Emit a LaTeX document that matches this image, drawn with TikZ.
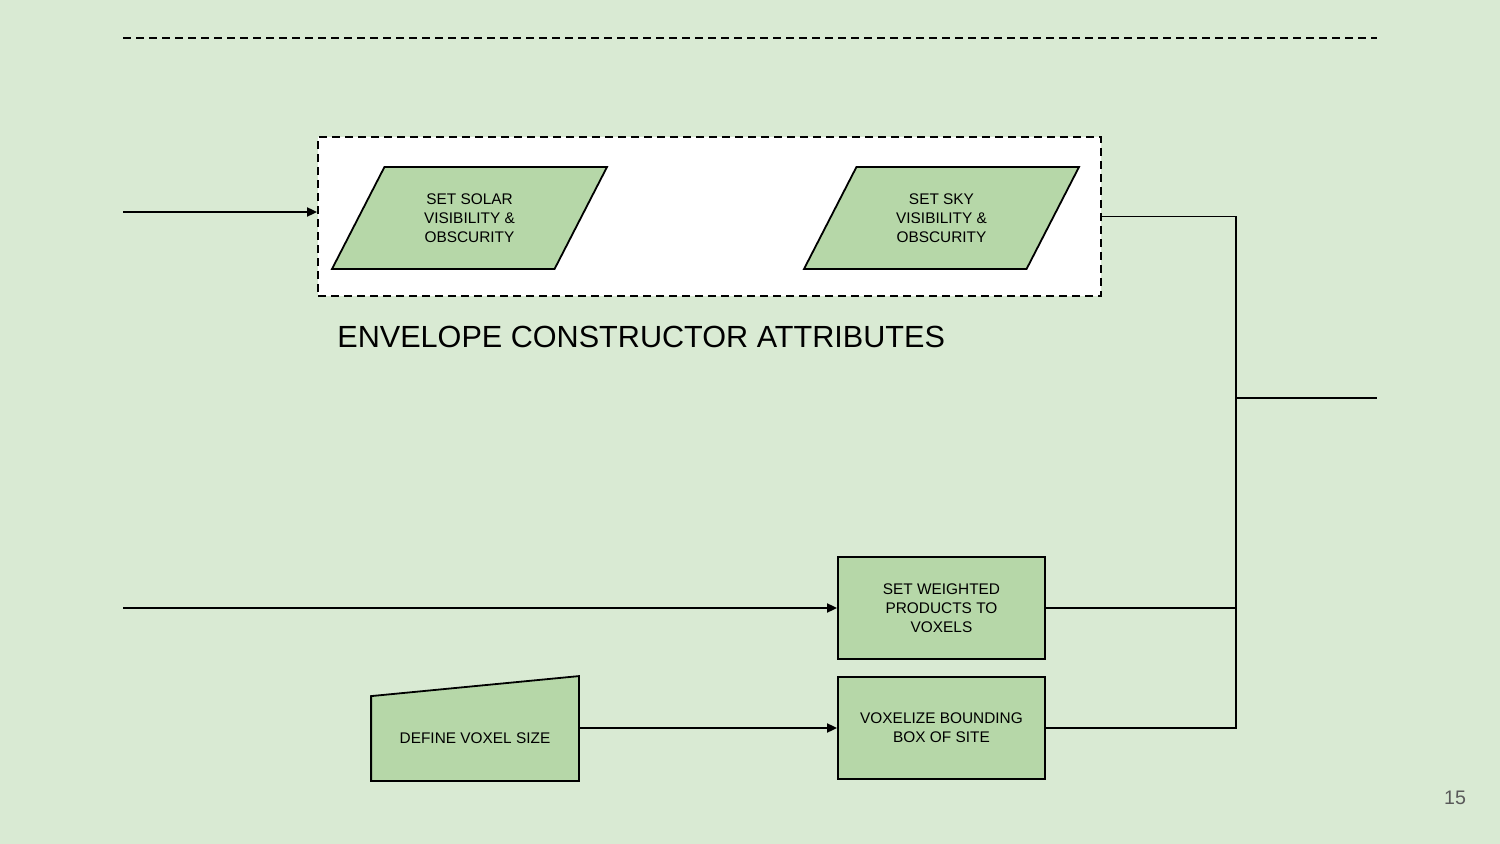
\documentclass[tikz,border=0pt]{standalone}
\usepackage{fontspec}
\setmainfont{Liberation Sans}
\usetikzlibrary{arrows.meta}
\usetikzlibrary{positioning}
\usetikzlibrary{shapes.geometric}
\definecolor{bgcol}{HTML}{D9EAD3}
\definecolor{boxcol}{HTML}{B6D7A8}
\definecolor{numcol}{HTML}{595959}
\pgfdeclarelayer{back}
\pgfsetlayers{back,main}
\tikzset{proc/.style = {draw, fill = boxcol, line width = 0.9pt, minimum width = 103.5pt, minimum height = 51pt, inner sep = 0, align = center, font = \fontsize{7.7}{9.5}\selectfont}}
\tikzset{para/.style = {proc, trapezium, trapezium left angle = 43, trapezium right angle = 137, trapezium stretches body, minimum width = 137.5pt}}
\tikzset{dashline/.style = {line width = 0.9pt, dash pattern = on 4pt off 2.5pt}}
\tikzset{link/.style = {line width = 0.9pt}}
\tikzset{flow/.style = {link, -{Triangle[length = 5pt, width = 4.5pt]}}}

\begin{document}
\begin{tikzpicture}[x = 0.5pt, y = -0.5pt]
    \useasboundingbox (0, 0) rectangle (1500, 844);
    \draw [dashline] (123, 38) -- (1377, 38);
    \node [dashline, draw, fill = white, minimum width = 391.5pt, minimum height = 79.5pt] (env) at (709.5, 216.5) {};
    \node [para] (solar) at (469.5, 218) {SET SOLAR\\VISIBILITY \&\\OBSCURITY};
    \node [para] (sky) at (941.5, 218) {SET SKY\\VISIBILITY \&\\OBSCURITY};
    \node [anchor = base west, inner sep = 0, font = \fontsize{15.3}{18}\selectfont] (title) at (337, 348) {ENVELOPE CONSTRUCTOR ATTRIBUTES};
    \node [proc] (weight) at (941.5, 608) {SET WEIGHTED\\PRODUCTS TO\\VOXELS};
    \node [proc] (voxelize) at (941.5, 728) {VOXELIZE BOUNDING\\BOX OF SITE};
    \node [proc, draw = none, fill = none, minimum width = 103pt, minimum height = 41.5pt] (vsize) at (475, 738.5) {DEFINE VOXEL SIZE};
    \begin{pgfonlayer}{back}
      \fill [bgcol] (0, 0) rectangle (1500, 844);
      \draw [link, fill = boxcol] (vsize.south west) -- (vsize.north west) -- ([yshift = 10pt] vsize.north east) -- (vsize.south east) -- cycle;
    \end{pgfonlayer}
    \node [anchor = base, font = \fontsize{9.8}{12}\selectfont, text = numcol] (pagenum) at (1455, 804) {15};
    \coordinate (inA) at (123, 212);
    \coordinate (inB) at (123, 608);
    \coordinate (join) at (1236, 398);
    \coordinate (out) at (1377, 398);
    \draw [flow] (inA) -- (inA -| env.west);
    \draw [flow] (inB) -- (weight);
    \draw [flow] (vsize.east |- voxelize) -- (voxelize);
    \draw [link] (env.east) -| (join) |- (voxelize.east);
    \draw [link] (weight.east) -- (weight.east -| join);
    \draw [link] (join) -- (out);
  \end{tikzpicture}
\end{document}
